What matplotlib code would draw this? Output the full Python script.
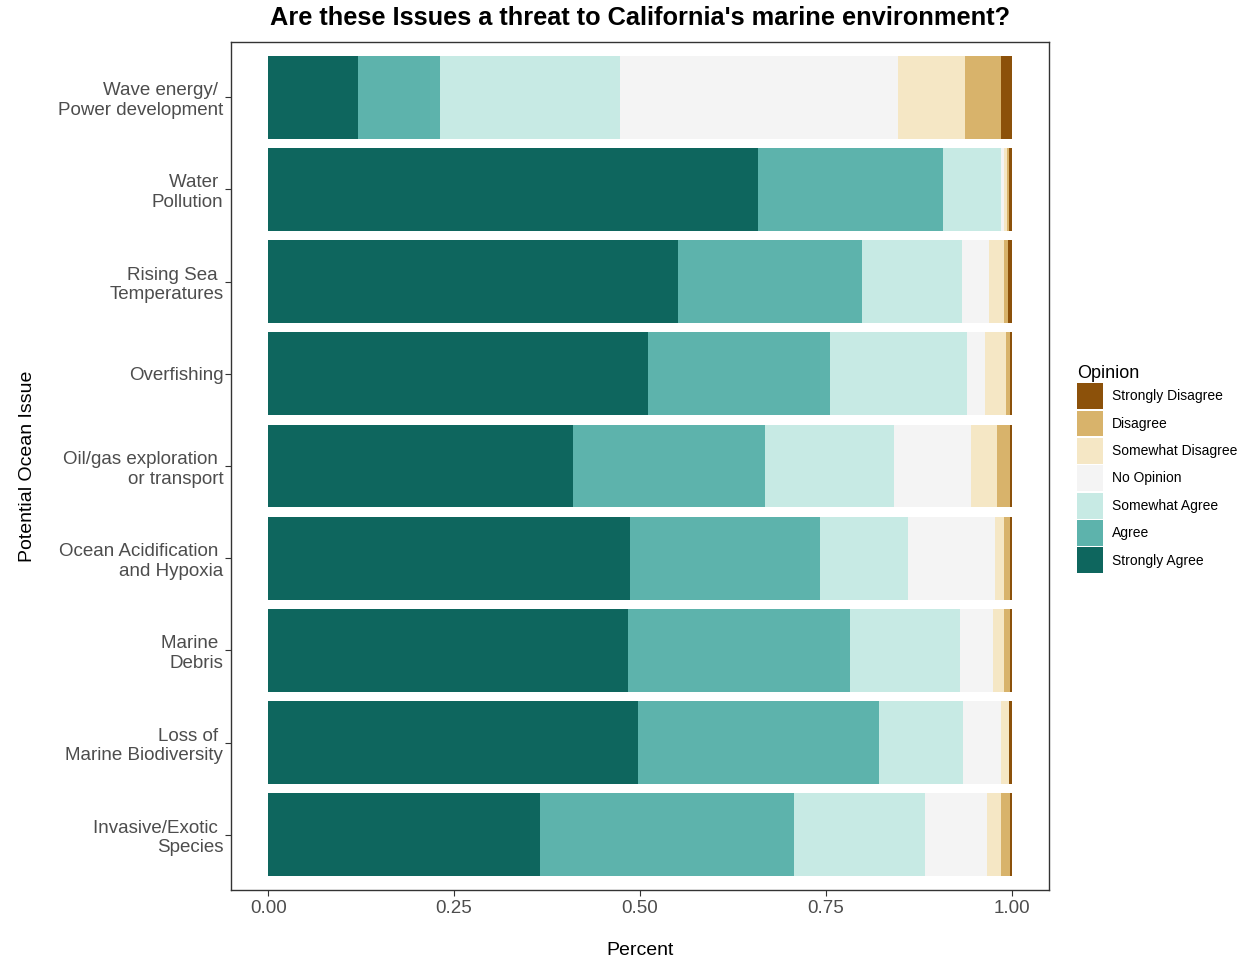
import numpy as np
import matplotlib
matplotlib.use("Agg")
import matplotlib.pyplot as plt
from matplotlib.patches import Patch

plt.rcParams['font.family'] = ['Liberation Sans', 'DejaVu Sans']

# issues, top to bottom
issues = ["Wave energy/ \nPower development", "Water \nPollution",
          "Rising Sea \nTemperatures", "Overfishing",
          "Oil/gas exploration \nor transport", "Ocean Acidification \nand Hypoxia",
          "Marine \nDebris", "Loss of \nMarine Biodiversity",
          "Invasive/Exotic \nSpecies"]

opinions = ["Strongly Agree", "Agree", "Somewhat Agree", "No Opinion",
            "Somewhat Disagree", "Disagree", "Strongly Disagree"]
colors = ["#0E665E", "#5DB3AC", "#C7EAE4", "#F4F4F4", "#F5E7C5", "#D8B36B", "#8C510A"]

# share of answers per issue, one list per opinion (same order as issues)
strongly_agree = [0.121, 0.6585, 0.551, 0.511, 0.410, 0.487, 0.484, 0.4975, 0.365]
agree = [0.110, 0.2485, 0.248, 0.244, 0.258, 0.255, 0.2985, 0.324, 0.342]
somewhat_agree = [0.2415, 0.078, 0.134, 0.185, 0.173, 0.119, 0.1475, 0.1135, 0.176]
no_opinion = [0.3745, 0.004, 0.037, 0.024, 0.104, 0.117, 0.045, 0.0505, 0.084]
somewhat_disagree = [0.090, 0.004, 0.020, 0.028, 0.035, 0.012, 0.015, 0.011, 0.018]
disagree = [0.048, 0.003, 0.005, 0.005, 0.017, 0.008, 0.008, 0.0, 0.013]
strongly_disagree = [0.015, 0.004, 0.005, 0.003, 0.003, 0.002, 0.002, 0.0037, 0.002]

series = [strongly_agree, agree, somewhat_agree, no_opinion,
          somewhat_disagree, disagree, strongly_disagree]

fig = plt.figure(figsize=(12.47, 9.63), dpi=100)
ax = fig.add_axes([0.1852, 0.0758, 0.656, 0.8806])

y = np.arange(len(issues))
left = np.zeros(len(issues))
for vals, col in zip(series, colors):
    vals = np.array(vals)
    ax.barh(y, vals, left=left, height=0.9, color=col, linewidth=0)
    left += vals

ax.set_ylim(len(issues) - 1 + 0.6, -0.6)
ax.set_xlim(-0.05, 1.05)
ax.set_yticks(y)
ax.set_yticklabels(issues, fontsize=13.5, color="#4D4D4D", ha="right", multialignment="right")
ax.set_xticks([0, 0.25, 0.5, 0.75, 1.0])
ax.set_xticklabels(["0.00", "0.25", "0.50", "0.75", "1.00"], fontsize=13.5, color="#4D4D4D")
ax.tick_params(axis="both", length=4, width=0.8, color="#333333", pad=3)
ax.tick_params(axis="y", pad=1.5)

for s in ax.spines.values():
    s.set_color("#333333")
    s.set_linewidth(1.0)

ax.set_xlabel("Percent", fontsize=14, labelpad=18)
ax.set_ylabel("Potential Ocean Issue", fontsize=14, labelpad=16)
fig.text(0.513, 0.981, "Are these Issues a threat to California's marine environment?",
         fontsize=18.3, fontweight="bold", ha="center", va="center")

handles = [Patch(facecolor=c, edgecolor="none") for c in colors[::-1]]
leg = fig.legend(handles, opinions[::-1], loc="upper left",
                 bbox_to_anchor=(0.859, 0.627), frameon=False,
                 fontsize=10, title="Opinion", title_fontsize=13,
                 handlelength=1.87, handleheight=2.5, labelspacing=0.1,
                 handletextpad=0.65, borderaxespad=0)
leg._legend_box.align = "left"

fig.savefig("out.png", dpi=100)
